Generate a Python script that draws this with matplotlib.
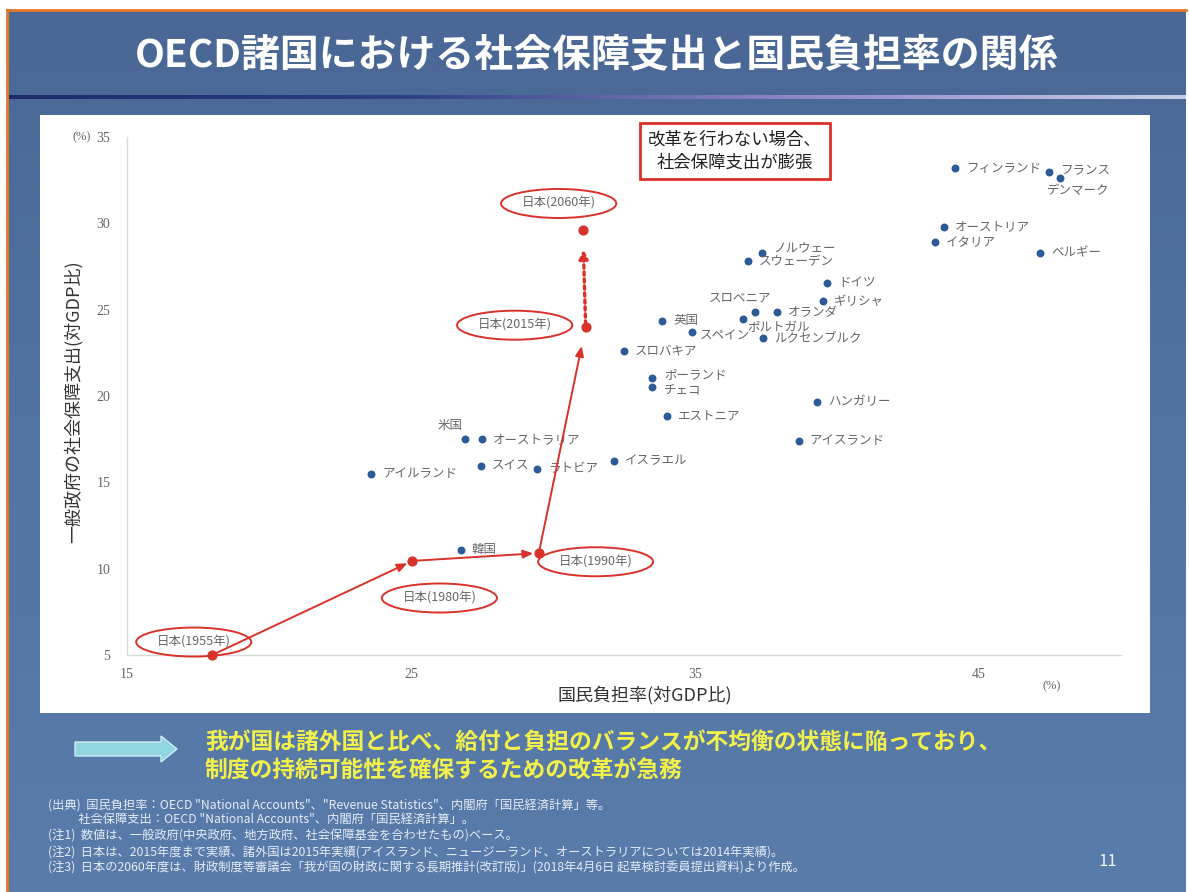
import numpy as np
import matplotlib
matplotlib.use("Agg")
import matplotlib.pyplot as plt
from matplotlib.patches import Rectangle, FancyArrow
from matplotlib.colors import LinearSegmentedColormap

plt.rcParams['font.family'] = ['Noto Sans CJK JP', 'DejaVu Sans']

# OECD countries: national burden ratio (x) and general-government social security spending (y), % of GDP
countries = ['フィンランド', 'フランス', 'デンマーク', 'オーストリア', 'イタリア', 'ベルギー',
             'ノルウェー', 'スウェーデン', 'ドイツ', 'ギリシャ', 'スロベニア', 'オランダ',
             'ポルトガル', '英国', 'スペイン', 'ルクセンブルク', 'スロバキア', 'ポーランド',
             'チェコ', 'エストニア', 'ハンガリー', 'アイスランド', 'イスラエル', '米国',
             'オーストラリア', 'スイス', 'ラトビア', 'アイルランド', '韓国']
burden = [44.15, 47.45, 47.85, 43.75, 43.45, 47.15,
          37.35, 36.85, 39.65, 39.5, 37.1, 37.9,
          36.7, 33.85, 34.9, 37.4, 32.5, 33.5,
          33.5, 34.0, 39.3, 38.65, 32.15, 26.9,
          27.5, 27.45, 29.45, 23.6, 26.75]
spending = [33.2, 33.0, 32.6, 29.8, 28.9, 28.3,
            28.3, 27.8, 26.55, 25.5, 24.85, 24.85,
            24.45, 24.35, 23.7, 23.35, 22.6, 21.05,
            20.55, 18.85, 19.65, 17.4, 16.25, 17.5,
            17.5, 15.95, 15.8, 15.5, 11.1]

# Japan's trajectory
japan_years = ['日本(1955年)', '日本(1980年)', '日本(1990年)', '日本(2015年)', '日本(2060年)']
japan_burden = [18.0, 25.05, 29.5, 31.15, 31.05]
japan_spending = [5.0, 10.45, 10.9, 24.0, 29.6]

x_ticks = [15, 25, 35, 45]
y_ticks = [5, 10, 15, 20, 25, 30, 35]

title = 'OECD諸国における社会保障支出と国民負担率の関係'
x_label = '国民負担率(対GDP比)'
y_label = '一般政府の社会保障支出(対GDP比)'
callout = '改革を行わない場合、\n社会保障支出が膨張'
message = ['我が国は諸外国と比べ、給付と負担のバランスが不均衡の状態に陥っており、',
           '制度の持続可能性を確保するための改革が急務']
notes = ['(出典)  国民負担率：OECD "National Accounts"、"Revenue Statistics"、内閣府「国民経済計算」等。',
         '           社会保障支出：OECD "National Accounts"、内閣府「国民経済計算」。',
         '(注1)  数値は、一般政府(中央政府、地方政府、社会保障基金を合わせたもの)ベース。',
         '(注2)  日本は、2015年度まで実績、諸外国は2015年実績(アイスランド、ニュージーランド、オーストラリアについては2014年実績)。',
         '(注3)  日本の2060年度は、財政制度等審議会「我が国の財政に関する長期推計(改訂版)」(2018年4月6日 起草検討委員提出資料)より作成。']

W, H = 1189, 892
fig = plt.figure(figsize=(W / 100, H / 100), dpi=100)
fig.patch.set_facecolor('white')


def fx(x):
    return x / W


def fy(y):
    return 1 - y / H


# slide background
bg = fig.add_axes([0, 0, 1, 1], zorder=0)
bg.set_xlim(0, W)
bg.set_ylim(H, 0)
bg.axis('off')
slide_cmap = LinearSegmentedColormap.from_list('slide', ['#4a6795', '#5274a3', '#5a7cab'])
grad = np.linspace(0, 1, 256).reshape(-1, 1) * np.ones((1, 4))
bg.imshow(grad, cmap=slide_cmap, extent=(7, 1186, H, 10), aspect='auto', zorder=0)
bg.plot([7, 7], [10, H], color='#e6762a', lw=2, zorder=3)
bg.plot([7, 1186], [10, 10], color='#e6762a', lw=2, zorder=3)

# divider under the title
line_cmap = LinearSegmentedColormap.from_list('rule', ['#1d2b6b', '#2e3f86', '#8f86c6', '#c9cde8'])
rule = np.linspace(0, 1, 512).reshape(1, -1)
bg.imshow(rule, cmap=line_cmap, extent=(9, 1186, 99, 95), aspect='auto', zorder=2)

# white chart panel
bg.add_patch(Rectangle((40, 115), 1110, 598, facecolor='white', edgecolor='none', zorder=2))

fig.text(fx(597), fy(55), title, color='white', fontsize=28, fontweight='bold',
         ha='center', va='center', zorder=5)

# scatter axes
ax = fig.add_axes([fx(127), fy(655), (1121 - 127) / W, (655 - 137) / H], zorder=3)
ax.set_facecolor('none')
ax.set_xlim(15, 50)
ax.set_ylim(5, 35)
for s in ['top', 'right']:
    ax.spines[s].set_visible(False)
for s in ['left', 'bottom']:
    ax.spines[s].set_color('#d9d9d9')
    ax.spines[s].set_linewidth(1.0)
ax.set_xticks(x_ticks)
ax.set_yticks(y_ticks)
ax.set_xticklabels([str(v) for v in x_ticks], family='Liberation Serif', fontsize=10, color='#666666')
ax.set_yticklabels([str(v) for v in y_ticks], family='Liberation Serif', fontsize=10, color='#666666')
ax.tick_params(axis='both', length=0)
ax.tick_params(axis='x', pad=9)
ax.tick_params(axis='y', pad=12)

fig.text(fx(82), fy(137), '(%)', family='Liberation Serif', fontsize=9, color='#666666',
         ha='center', va='center')
fig.text(fx(1052), fy(686), '(%)', family='Liberation Serif', fontsize=9, color='#666666',
         ha='center', va='center')

fig.text(fx(645), fy(695), x_label, fontsize=13, color='#333333', ha='center', va='center')
fig.text(fx(73), fy(402), y_label, fontsize=13, color='#333333', ha='center', va='center',
         rotation=90)

# countries
ax.scatter(burden, spending, s=22, color='#2b5a96', zorder=4, clip_on=False)
label_pos = {
    'フランス': (12, 1, 'left'),
    'デンマーク': (-13, -12, 'left'),
    'ノルウェー': (12, 5, 'left'),
    'スロベニア': (-15, 14, 'center'),
    'ポルトガル': (4, -8, 'left'),
    'スペイン': (8, -4, 'left'),
    'ポーランド': (12, 2, 'left'),
    'チェコ': (12, -4, 'left'),
    '米国': (-15, 14, 'center'),
}
for name, xv, yv in zip(countries, burden, spending):
    dx, dy, ha = label_pos.get(name, (11, 0, 'left'))
    ax.annotate(name, (xv, yv), xytext=(dx, dy), textcoords='offset pixels',
                ha=ha, va='center', fontsize=9, color='#666666', zorder=5)

# Japan path
red = '#d8322a'
ax.scatter(japan_burden, japan_spending, s=40, color=red, zorder=6, clip_on=False)
for i in range(3):
    ax.annotate('', xy=(japan_burden[i + 1], japan_spending[i + 1]),
                xytext=(japan_burden[i], japan_spending[i]),
                arrowprops=dict(arrowstyle='-|>,head_length=0.6,head_width=0.25', color=red,
                                lw=1.4, shrinkA=0, shrinkB=4 if i < 2 else 14),
                zorder=5)
ax.annotate('', xy=(japan_burden[4], japan_spending[4]),
            xytext=(japan_burden[3], japan_spending[3]),
            arrowprops=dict(arrowstyle='-|>,head_length=0.5,head_width=0.25', color=red,
                            lw=2.4, linestyle=(0, (1, 1.1)), shrinkA=2, shrinkB=14),
            zorder=5)

japan_label_xy = [(17.35, 5.75), (26.0, 8.3), (31.5, 10.4), (28.65, 24.1), (30.2, 31.15)]
for text, (lx, ly) in zip(japan_years, japan_label_xy):
    ax.text(lx, ly, text, fontsize=9, color='#666666', ha='center', va='center', zorder=7,
            bbox=dict(boxstyle='ellipse,pad=0.3', facecolor='none', edgecolor=red, lw=1.4))

# callout box
fig.text(fx(735), fy(151), callout, fontsize=12.5, color='#222222', ha='center', va='center',
         linespacing=1.35, zorder=6,
         bbox=dict(boxstyle='square,pad=0.45', facecolor='white', edgecolor=red, lw=2))

# bottom message
bg.add_patch(FancyArrow(75, 749, 86, 0, width=14, head_width=26, head_length=16,
                        length_includes_head=False, facecolor='#8fd6e0', edgecolor='#cfeef2',
                        lw=1, zorder=4))
fig.text(fx(205), fy(742), message[0], fontsize=16.4, fontweight='bold', color='#f2f04a',
         ha='left', va='center', zorder=5)
fig.text(fx(205), fy(771), message[1], fontsize=16.4, fontweight='bold', color='#f2f04a',
         ha='left', va='center', zorder=5)

note_y = [806, 819, 836, 852, 868]
for t, yy in zip(notes, note_y):
    fig.text(fx(48), fy(yy), t, fontsize=8.8, color='#e6ecf5', ha='left', va='center', zorder=5)

fig.text(fx(1108), fy(862), '11', fontsize=12, color='#eef2f8', ha='center', va='center', zorder=5)

fig.savefig('out.png', dpi=100, facecolor=fig.get_facecolor())
